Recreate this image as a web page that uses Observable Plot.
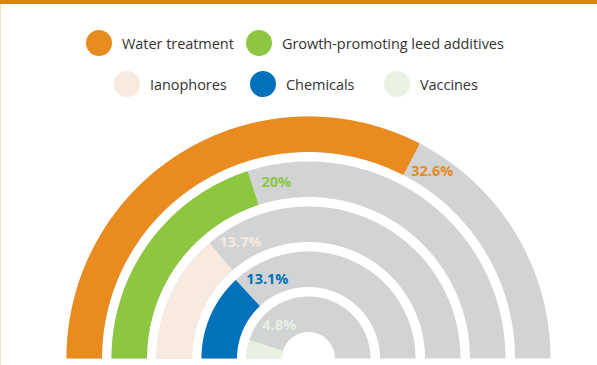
<!DOCTYPE html>
<html>
<head>
<meta charset="utf-8">
<script src="https://cdn.jsdelivr.net/npm/d3@7"></script>
<script src="https://cdn.jsdelivr.net/npm/@observablehq/plot@0.6"></script>
<style>
  html, body { margin: 0; padding: 0; background: #fff; }
  #wrap { position: relative; width: 597px; height: 365px; overflow: hidden; background: #fff; font-family: "Open Sans", sans-serif; }
  #topbar { position: absolute; left: 0; top: 0; width: 597px; height: 4px; background: #DB8318; z-index: 2; }
  #leftline { position: absolute; left: 0; top: 4px; width: 1px; height: 361px; background: #F8DDB8; z-index: 2; }
  #chart { position: absolute; left: 0; top: 0; }
  .item { position: absolute; display: flex; align-items: center; height: 26px; z-index: 3; }
  .sw { width: 26px; height: 26px; border-radius: 50%; flex: none; }
  .lab { font-size: 14.5px; color: #333; margin-left: 10px; white-space: nowrap; letter-spacing: -0.05px; }
</style>
</head>
<body>
<div id="wrap">
  <div id="chart"></div>
  <div id="topbar"></div>
  <div id="leftline"></div>
</div>
<script>
// ---- data ----
const categories = ["Water treatment", "Growth-promoting leed additives", "Ianophores", "Chemicals", "Vaccines"];
const values = [32.6, 20, 13.7, 13.1, 4.8];
const valueLabels = ["32.6%", "20%", "13.7%", "13.1%", "4.8%"];
const colors = ["#E98B1E", "#8DC63F", "#F8EADF", "#0071BB", "#EAF1E3"];
const trackColor = "#D1D3D4";

// legend layout (positions in page px)
const legendPos = [[86, 30], [246, 30], [114, 71], [250, 71], [384, 71]];
const wrap = document.getElementById("wrap");
categories.forEach((c, i) => {
  const d = document.createElement("div");
  d.className = "item";
  d.style.left = legendPos[i][0] + "px";
  d.style.top = legendPos[i][1] + "px";
  d.innerHTML = `<div class="sw" style="background:${colors[i]}"></div><div class="lab">${c}</div>`;
  wrap.appendChild(d);
});

// ---- geometry ----
const outerR = 242, ringW = 35.5, pitch = 45;
const toXY = (r, deg) => {
  const t = deg * Math.PI / 180;
  return [-r * Math.cos(t), r * Math.sin(t)];
};
function band(id, r0, r1, a0, a1) {
  const pts = [];
  const n = Math.max(2, Math.ceil((a1 - a0) * 2));
  for (let k = 0; k <= n; k++) {
    const a = a0 + (a1 - a0) * k / n;
    const [x, y] = toXY(r1, a);
    pts.push({id, x, y});
  }
  for (let k = n; k >= 0; k--) {
    const a = a0 + (a1 - a0) * k / n;
    const [x, y] = toXY(r0, a);
    pts.push({id, x, y});
  }
  return pts;
}

const tracks = [], arcs = [], labels = [];
categories.forEach((c, i) => {
  const r1 = outerR - i * pitch, r0 = r1 - ringW, rm = (r0 + r1) / 2;
  tracks.push(...band(c, r0, r1, 0, 180).map(p => ({...p, color: trackColor})));
  const end = values[i] * 3.6;
  arcs.push(...band(c, r0, r1, 0, end).map(p => ({...p, color: colors[i]})));
  const la = end + (24 / rm) * 180 / Math.PI;
  const [lx, ly] = toXY(rm, la);
  labels.push({x: lx, y: ly, text: valueLabels[i], color: colors[i]});
});

const chart = Plot.plot({
  width: 597,
  height: 365,
  margin: 0,
  x: {domain: [-308, 289], axis: null},
  y: {domain: [-7, 358], axis: null},
  color: {type: "identity"},
  style: {background: "transparent"},
  marks: [
    Plot.line(tracks, {x: "x", y: "y", z: "id", fill: "color", stroke: "none", curve: "linear"}),
    Plot.line(arcs, {x: "x", y: "y", z: "id", fill: "color", stroke: "none", curve: "linear"}),
    Plot.text(labels, {x: "x", y: "y", text: "text", fill: "color", fontSize: 14.5, fontWeight: "bold",
      fontFamily: "Open Sans, sans-serif", textAnchor: "middle", lineAnchor: "middle"})
  ]
});
document.getElementById("chart").appendChild(chart);
</script>
</body>
</html>
